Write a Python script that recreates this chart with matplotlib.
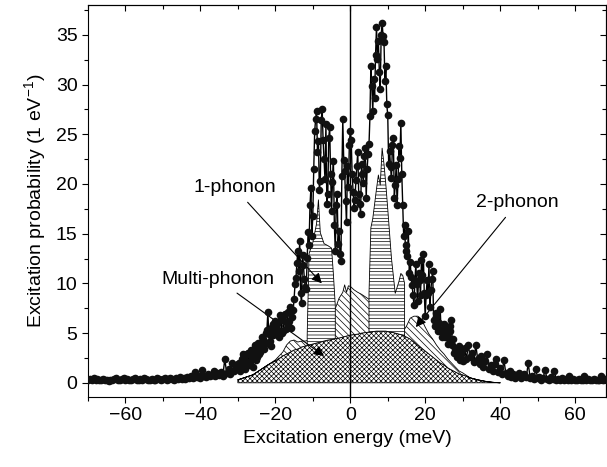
import numpy as np
import matplotlib.pyplot as plt

plt.rcParams['font.family'] = ['Liberation Sans', 'DejaVu Sans']
plt.rcParams['mathtext.default'] = 'regular'
plt.rcParams['hatch.linewidth'] = 0.5

# measured excitation probability, 0.5 meV steps from -70 to 70 meV
prob_left = [0.3, 0.4, 0.3, 0.5, 0.3, 0.4, 0.3, 0.3, 0.4, 0.3,
             0.3, 0.2, 0.3, 0.3, 0.4, 0.5, 0.3, 0.3, 0.4, 0.5,
             0.3, 0.4, 0.3, 0.3, 0.4, 0.5, 0.3, 0.3, 0.4, 0.3,
             0.5, 0.4, 0.3, 0.3, 0.4, 0.3, 0.3, 0.5, 0.4, 0.3,
             0.4, 0.5, 0.3, 0.4, 0.5, 0.4, 0.3, 0.5, 0.4, 0.6,
             0.4, 0.5, 0.4, 0.6, 0.5, 0.7, 0.5, 1.1, 0.6, 0.7,
             0.5, 1.3, 0.7, 0.6, 0.9, 0.7, 0.8, 1.2, 0.7, 1.0,
             0.8, 1.1, 0.7, 2.4, 1.0, 1.4, 0.9, 2.0, 1.2, 1.6]
prob_center = [1.9, 1.2, 2.4, 2.5, 1.4, 2.9, 1.8, 3.3, 1.6, 3.8,
               2.6, 4.0, 3.1, 4.6, 3.4, 5.0, 7.1, 4.2, 5.6, 4.8,
               6.2, 5.9, 4.6, 6.4, 5.2, 6.9, 6.0, 5.6, 7.6, 6.6,
               8.4, 10.5, 13.3, 14.3, 8.0, 11.8, 9.6, 12.6, 13.9, 19.6,
               16.8, 25.3, 27.3, 24.3, 20.3, 27.5, 22.5, 26.0, 19.0, 25.7,
               17.3, 22.3, 13.3, 19.0, 15.3, 12.3, 26.5, 21.3, 16.2, 19.7,
               25.3, 21.0, 17.6, 20.4, 23.2, 18.0, 22.0, 20.1, 23.6, 21.5,
               24.0, 31.9, 27.3, 28.6, 35.8, 34.4, 29.6, 36.2, 34.3, 31.9,
               26.9, 23.3, 20.6, 24.6, 19.9, 17.9, 23.8, 26.1, 17.9, 15.9,
               13.9, 15.3, 12.2, 9.8, 7.8, 11.9, 8.2, 10.3, 12.4, 13.0,
               6.7, 10.3, 11.9, 9.3, 11.2, 5.7, 7.0, 5.2, 7.4, 4.6,
               5.9, 5.4, 3.9, 5.7, 6.3, 4.4, 3.4, 2.6, 3.7, 2.9,
               2.2]
# extra points between the 0.5 meV steps, -29.75 to 29.75 meV
prob_center_mid = [2.0, 1.5, 2.9, 1.9, 2.2, 3.0, 2.1, 2.6, 3.1, 2.3,
                   3.5, 2.9, 3.8, 4.4, 3.9, 5.3, 4.9, 3.7, 5.9, 5.1,
                   4.9, 5.3, 6.8, 5.0, 6.2, 5.4, 7.1, 6.2, 5.5, 7.3,
                   9.9, 12.0, 11.2, 9.0, 12.9, 10.4, 9.4, 15.2, 17.9, 14.8,
                   21.5, 26.5, 23.2, 19.4, 26.4, 24.4, 20.5, 18.0, 24.6, 21.0,
                   20.2, 15.9, 17.9, 14.0, 13.0, 20.8, 22.4, 18.3, 21.8, 23.9,
                   24.4, 19.2, 18.4, 21.8, 19.0, 17.0, 21.0, 22.8, 18.6, 23.0,
                   26.8, 29.9, 30.6, 33.0, 32.6, 31.3, 35.0, 34.9, 30.4, 28.0,
                   22.0, 21.7, 23.9, 18.6, 21.9, 20.5, 22.6, 21.0, 14.8, 13.3,
                   12.8, 11.0, 10.6, 8.8, 10.3, 9.9, 11.0, 8.8, 10.8, 9.0,
                   8.8, 9.0, 7.6, 10.4, 6.3, 6.6, 5.7, 6.0, 5.3, 5.0,
                   4.6, 5.0, 4.5, 5.2, 3.8, 3.0, 3.4, 2.9, 2.3, 3.3]
prob_right = [3.5, 2.4, 3.8, 2.6, 3.0, 2.1, 3.8, 2.4, 1.9, 2.7,
              1.6, 2.2, 2.9, 1.4, 1.8, 1.2, 1.9, 2.4, 1.1, 1.5,
              0.9, 2.3, 1.0, 0.7, 1.2, 0.6, 0.9, 0.5, 0.8, 1.0,
              0.5, 0.7, 0.9, 0.6, 2.0, 0.5, 0.7, 0.4, 1.4, 0.5,
              0.6, 0.3, 0.5, 1.3, 0.4, 0.3, 0.6, 0.4, 1.2, 0.3,
              0.4, 0.3, 0.5, 0.3, 0.4, 0.3, 0.7, 0.3, 0.4, 0.3,
              0.3, 0.4, 0.3, 0.3, 0.7, 0.3, 0.4, 0.3, 0.3, 0.4,
              0.3, 0.3, 0.3, 0.7, 0.3, 0.4, 0.3, 0.3, 0.4, 0.3]

# calculated components
component_energy = [-30, -26, -24, -22, -20, -18, -17, -16, -15, -14,
                    -13, -12, -11.5, -11, -10, -9, -8.5, -8, -7, -6,
                    -5, -4.5, -4, -3, -2, -1.5, -1, -0.5, 0, 1,
                    2, 3, 4, 5, 5.5, 6, 7, 7.5, 8, 8.5,
                    9, 9.5, 10, 11, 12, 13, 13.5, 14, 14.5, 15,
                    16, 17, 18, 19, 20, 21, 22, 23, 24, 25,
                    26, 27, 28, 29, 30, 32, 34, 36, 38, 40]
multi_phonon = [0.3, 0.8, 1.3, 1.8, 2.2, 2.7, 2.9, 3.1, 3.3, 3.4,
                3.6, 3.7, 3.75, 3.8, 3.9, 4.0, 4.05, 4.1, 4.2, 4.3,
                4.35, 4.4, 4.45, 4.5, 4.6, 4.65, 4.7, 4.75, 4.8, 4.85,
                4.9, 5.0, 5.05, 5.1, 5.1, 5.15, 5.2, 5.2, 5.2, 5.2,
                5.2, 5.2, 5.15, 5.1, 5.0, 4.9, 4.85, 4.8, 4.7, 4.6,
                4.4, 4.1, 3.8, 3.5, 3.2, 2.9, 2.6, 2.3, 2.0, 1.8,
                1.5, 1.3, 1.1, 0.9, 0.8, 0.5, 0.3, 0.15, 0.05, 0.0]
two_phonon = [0, 0, 0, 0, 0.1, 0.4, 0.9, 1.1, 1.0, 0.7,
              0.6, 0.5, 0.5, 0.5, 0.6, 0.7, 0.75, 0.8, 0.9, 1.2,
              2.0, 2.5, 3.0, 4.0, 4.5, 5.2, 4.4, 5.0, 4.9, 4.5,
              4.2, 3.9, 3.6, 3.3, 3.1, 2.9, 2.5, 2.3, 2.1, 1.9,
              1.7, 1.5, 1.3, 1.0, 0.8, 0.7, 0.6, 0.6, 0.7, 1.1,
              2.1, 2.6, 2.9, 2.9, 2.4, 2.0, 1.8, 1.5, 1.3, 1.1,
              0.9, 0.7, 0.5, 0.3, 0.2, 0, 0, 0, 0, 0]
one_phonon = [0, 0, 0, 0, 0, 0, 0, 0, 0, 0,
              0, 0, 0.5, 8.7, 9.6, 11.3, 13.6, 10.2, 8.9, 8.3,
              7.2, 4.0, 0.3, 0, 0, 0, 0, 0, 0, 0,
              0, 0, 0, 0.6, 7.4, 8.45, 11.8, 13.4, 12.6, 16.5,
              15.1, 13.2, 11.05, 6.4, 3.2, 4.6, 5.55, 5.4, 4.6, 0,
              0, 0, 0, 0, 0, 0, 0, 0, 0, 0,
              0, 0, 0, 0, 0, 0, 0, 0, 0, 0]

energy = np.concatenate([np.arange(-70, 70.25, 0.5), np.arange(-29.75, 30, 0.5)])
probability = np.array(prob_left + prob_center + prob_right + prob_center_mid)
order = np.argsort(energy)
energy, probability = energy[order], probability[order]

ce = np.array(component_energy)
multi = np.array(multi_phonon)
two_top = multi + np.array(two_phonon)
one = np.array(one_phonon)
total = two_top + one

fig = plt.figure(figsize=(6.07, 4.67), dpi=100)
ax = fig.add_axes([0.145, 0.1505, 0.853, 0.8388])

ax.fill_between(ce, 0, multi, facecolor='white', edgecolor='black',
                hatch='xxxxxxx', linewidth=0.6, zorder=2)
ax.fill_between(ce, multi, two_top, facecolor='white', edgecolor='black',
                hatch='\\\\\\\\\\', linewidth=0.6, zorder=2)
ax.fill_between(ce, multi, total, where=one > 0, facecolor='white',
                edgecolor='black', hatch='-----', linewidth=0.6, zorder=2)

ax.axvline(0, color='black', lw=1.0, zorder=3)

ax.plot(energy, probability, '-o', color='black', lw=1.0, ms=5.5,
        markerfacecolor='#111111', markeredgewidth=0, zorder=5)

arrow = dict(arrowstyle='-|>', color='black', lw=0.8, mutation_scale=15,
             shrinkA=3, shrinkB=0)
ax.annotate('1-phonon', xy=(-7.6, 10.0), xytext=(-30.9, 19.6), fontsize=14,
            ha='center', va='center', arrowprops=arrow, zorder=4)
ax.annotate('Multi-phonon', xy=(-7.0, 2.7), xytext=(-35.3, 10.4), fontsize=14,
            ha='center', va='center', arrowprops=arrow, zorder=4)
ax.annotate('2-phonon', xy=(17.5, 5.6), xytext=(44.6, 18.1), fontsize=14,
            ha='center', va='center', arrowprops=arrow, zorder=4)

ax.set_xlim(-70, 68.2)
ax.set_ylim(-1.4, 38.0)
ax.set_xticks(np.arange(-60, 61, 20))
ax.set_xticks(np.arange(-70, 70, 10), minor=True)
ax.set_yticks(np.arange(0, 36, 5))
ax.set_yticks(np.arange(0, 38, 2.5), minor=True)
ax.set_xticklabels(['\u221260', '\u221240', '\u221220', '0', '20', '40', '60'])
ax.tick_params(which='both', direction='out', labelsize=14, width=0.8)
ax.tick_params(which='major', length=4)
ax.tick_params(which='minor', length=3)

# inward ticks on the top and right frame
top = ax.secondary_xaxis('top')
top.set_xticks(np.arange(-60, 61, 20))
top.set_xticks(np.arange(-70, 70, 10), minor=True)
top.tick_params(which='both', direction='in', labeltop=False, width=0.8)
top.tick_params(which='major', length=4)
top.tick_params(which='minor', length=3)
right = ax.secondary_yaxis('right')
right.set_yticks(np.arange(0, 36, 5))
right.set_yticks(np.arange(0, 38, 2.5), minor=True)
right.tick_params(which='both', direction='in', labelright=False, width=0.8)
right.tick_params(which='major', length=4)
right.tick_params(which='minor', length=3)

ax.set_xlabel('Excitation energy (meV)', fontsize=14, labelpad=4)
ax.set_ylabel('Excitation probability (1 eV$^{-1}$)', fontsize=14, labelpad=6)

fig.savefig('out.png', dpi=100)
